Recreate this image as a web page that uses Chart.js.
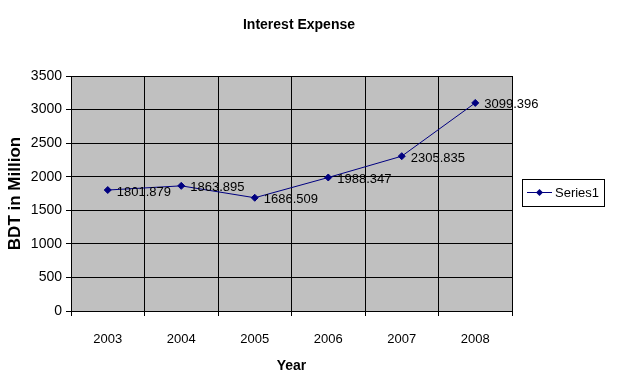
<!DOCTYPE html>
<html>
<head>
<meta charset="utf-8">
<script src="https://cdn.jsdelivr.net/npm/chart.js@4/dist/chart.umd.min.js"></script>
<style>
  html, body { margin: 0; padding: 0; background: #fff; }
  #wrap { width: 617px; height: 378px; position: relative; }
</style>
</head>
<body>
<div id="wrap"><canvas id="c"></canvas></div>
<script>
const years = ["2003", "2004", "2005", "2006", "2007", "2008"];
const interest = [1801.879, 1863.895, 1686.509, 1988.347, 2305.835, 3099.396];
const seriesName = "Series1";
const chartTitle = "Interest Expense";

const FONT = "'Liberation Sans', Arial, sans-serif";
const NAVY = "#000080";

// grey plot area behind the grid, plus the title (centred like excel, not over the canvas)
const plotBg = {
  id: "plotBg",
  beforeDraw(chart) {
    const { ctx, chartArea: a } = chart;
    ctx.save();
    ctx.fillStyle = "#c0c0c0";
    ctx.fillRect(a.left, a.top, a.right - a.left, a.bottom - a.top);
    ctx.fillStyle = "#000";
    ctx.font = "bold 14px " + FONT;
    ctx.textAlign = "center";
    ctx.textBaseline = "middle";
    ctx.fillText(chartTitle, 299, 25);
    ctx.restore();
  }
};

// value labels to the right of each point
const valueLabels = {
  id: "valueLabels",
  afterDatasetsDraw(chart) {
    const { ctx } = chart;
    const meta = chart.getDatasetMeta(0);
    ctx.save();
    ctx.font = "13px " + FONT;
    ctx.fillStyle = "#000";
    ctx.textAlign = "left";
    ctx.textBaseline = "middle";
    meta.data.forEach((pt, i) => {
      ctx.fillText(String(chart.data.datasets[0].data[i]), pt.x + 9, pt.y + 2);
    });
    ctx.restore();
  }
};

// excel style boxed legend on the right
const boxLegend = {
  id: "boxLegend",
  afterDraw(chart) {
    const { ctx } = chart;
    const x = 522, y = 179, w = 82, h = 27, cy = y + h / 2;
    ctx.save();
    ctx.fillStyle = "#fff";
    ctx.fillRect(x, y, w, h);
    ctx.strokeStyle = "#000";
    ctx.lineWidth = 1;
    ctx.strokeRect(x + 0.5, y + 0.5, w, h);
    ctx.strokeStyle = NAVY;
    ctx.beginPath();
    ctx.moveTo(527, cy);
    ctx.lineTo(552, cy);
    ctx.stroke();
    ctx.fillStyle = NAVY;
    ctx.beginPath();
    ctx.moveTo(539.5, cy - 3.5);
    ctx.lineTo(543, cy);
    ctx.lineTo(539.5, cy + 3.5);
    ctx.lineTo(536, cy);
    ctx.closePath();
    ctx.fill();
    ctx.fillStyle = "#000";
    ctx.font = "13px " + FONT;
    ctx.textBaseline = "middle";
    ctx.fillText(chart.data.datasets[0].label, 555, cy + 1);
    ctx.restore();
  }
};

new Chart(document.getElementById("c"), {
  type: "line",
  data: {
    labels: years,
    datasets: [{
      label: seriesName,
      data: interest,
      borderColor: NAVY,
      backgroundColor: NAVY,
      borderWidth: 1,
      pointStyle: "rectRot",
      pointRadius: 3.5,
      pointHoverRadius: 3.5,
      tension: 0
    }]
  },
  options: {
    responsive: true,
    maintainAspectRatio: false,
    animation: false,
    layout: { padding: { top: 76, left: 0, right: 105, bottom: 0 } },
    plugins: {
      legend: { display: false },
      tooltip: { enabled: false }
    },
    scales: {
      x: {
        offset: true,
        grid: { color: "#000", lineWidth: 1, offset: true, tickLength: 5, tickColor: "#000" },
        border: { color: "#000" },
        ticks: { color: "#000", font: { family: FONT, size: 13 }, padding: 16, maxRotation: 0 },
        title: {
          display: true,
          text: "Year",
          color: "#000",
          font: { family: FONT, size: 14, weight: "bold" },
          padding: { top: 4, bottom: 3 }
        },
        afterFit(scale) { scale.height = 67; }
      },
      y: {
        min: 0,
        max: 3500,
        grid: { color: "#000", lineWidth: 1, tickLength: 5, tickColor: "#000" },
        border: { color: "#000" },
        ticks: {
          stepSize: 500,
          color: "#000",
          font: { family: FONT, size: 14 },
          padding: 4,
          callback: (v) => String(v)
        },
        title: {
          display: true,
          text: "BDT in Million",
          color: "#000",
          font: { family: FONT, size: 17, weight: "bold" },
          padding: { top: 5, bottom: 4 }
        },
        afterFit(scale) { scale.width = 71; }
      }
    }
  },
  plugins: [plotBg, valueLabels, boxLegend]
});
</script>
</body>
</html>
